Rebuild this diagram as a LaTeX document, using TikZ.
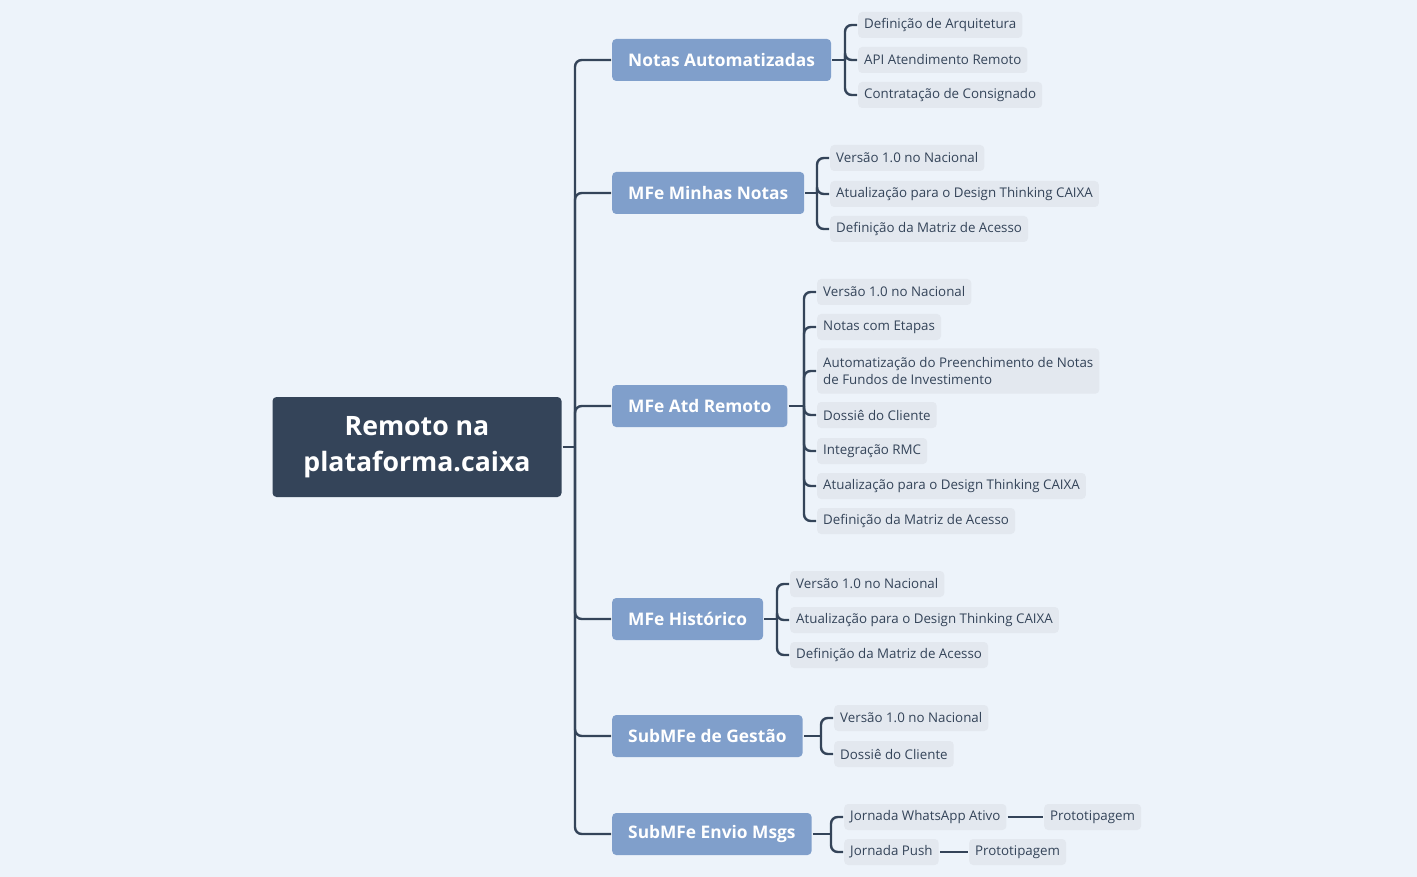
\documentclass[tikz,border=0pt]{standalone}
\usepackage{fontspec}
\setmainfont{Open Sans}
\definecolor{bgblue}{HTML}{EDF3FA}
\definecolor{rootdark}{HTML}{344459}
\definecolor{mainblue}{HTML}{809FCB}
\definecolor{leafgray}{HTML}{E3E8EF}
\definecolor{leaftext}{HTML}{344459}
\begin{document}
\begin{tikzpicture}[x=0.75pt, y=-0.75pt, line width=1.8pt, draw=rootdark]
  \tikzset{
    root/.style = {fill=rootdark, text=white, rounded corners=3pt, font=\bfseries\fontsize{20}{27}\selectfont, align=center, minimum width=216.75pt, minimum height=75pt},
    topic/.style = {fill=mainblue, text=white, rounded corners=3pt, font=\bfseries\fontsize{13}{15}\selectfont, anchor=west, minimum height=31.5pt, inner xsep=12pt},
    leaf/.style = {fill=leafgray, text=leaftext, rounded corners=3pt, font=\fontsize{10}{12.5}\selectfont, anchor=west, minimum height=19.5pt, inner xsep=4.5pt, align=left},
    link/.style = {draw=rootdark, line width=1.8pt, rounded corners=5pt}
  }
  \useasboundingbox[fill=bgblue] (0,0) rectangle (1417,877);

  \node [root] (root) at (417,447) {Remoto na\\plataforma.caixa};

  % main topics
  \node [topic] (na) at (611,60) {Notas Automatizadas};
  \node [topic] (mn) at (611,193) {MFe Minhas Notas};
  \node [topic] (ar) at (611,406) {MFe Atd Remoto};
  \node [topic] (mh) at (611,619) {MFe Histórico};
  \node [topic] (sg) at (611,736) {SubMFe de Gestão};
  \node [topic] (se) at (611,834) {SubMFe Envio Msgs};

  % leaves
  \node [leaf] (na1) at (857,25) {Definição de Arquitetura};
  \node [leaf] (na2) at (857,60) {API Atendimento Remoto};
  \node [leaf] (na3) at (857,95) {Contratação de Consignado};

  \node [leaf] (mn1) at (829,158) {Versão 1.0 no Nacional};
  \node [leaf] (mn2) at (829,194) {Atualização para o Design Thinking CAIXA};
  \node [leaf] (mn3) at (829,229) {Definição da Matriz de Acesso};

  \node [leaf] (ar1) at (816,292) {Versão 1.0 no Nacional};
  \node [leaf] (ar2) at (816,327) {Notas com Etapas};
  \node [leaf, minimum height=34pt] (ar3) at (816,371) {Automatização do Preenchimento de Notas\\de Fundos de Investimento};
  \node [leaf] (ar4) at (816,415) {Dossiê do Cliente};
  \node [leaf] (ar5) at (816,451) {Integração RMC};
  \node [leaf] (ar6) at (816,486) {Atualização para o Design Thinking CAIXA};
  \node [leaf] (ar7) at (816,521) {Definição da Matriz de Acesso};

  \node [leaf] (mh1) at (789,584) {Versão 1.0 no Nacional};
  \node [leaf] (mh2) at (789,620) {Atualização para o Design Thinking CAIXA};
  \node [leaf] (mh3) at (789,655) {Definição da Matriz de Acesso};

  \node [leaf] (sg1) at (833,718) {Versão 1.0 no Nacional};
  \node [leaf] (sg2) at (833,754) {Dossiê do Cliente};

  \node [leaf] (se1) at (843,817) {Jornada WhatsApp Ativo};
  \node [leaf] (se2) at (843,852) {Jornada Push};
  \node [leaf] (se1p) at (1043,817) {Prototipagem};
  \node [leaf] (se2p) at (968,852) {Prototipagem};

  % connectors
  \coordinate (trunk) at (575,447);
  \draw [link] (root.east) -- (trunk);
  \foreach \t in {na,mn,ar,mh,sg,se}
    \draw [link] (trunk) |- (\t.west);

  \foreach \t/\bx/\leaves in {na/845/{na1,na2,na3}, mn/817/{mn1,mn2,mn3},
      ar/804/{ar1,ar2,ar3,ar4,ar5,ar6,ar7}, mh/777/{mh1,mh2,mh3},
      sg/821/{sg1,sg2}, se/831/{se1,se2}} {
    \coordinate (\t-br) at (\bx,0 |- \t.east);
    \draw [link] (\t.east) -- (\t-br);
    \foreach \l in \leaves
      \draw [link] (\t-br) |- (\l.west);
  }
  \draw [link] (se1.east) -- (se1p.west);
  \draw [link] (se2.east) -- (se2p.west);
\end{tikzpicture}
\end{document}
